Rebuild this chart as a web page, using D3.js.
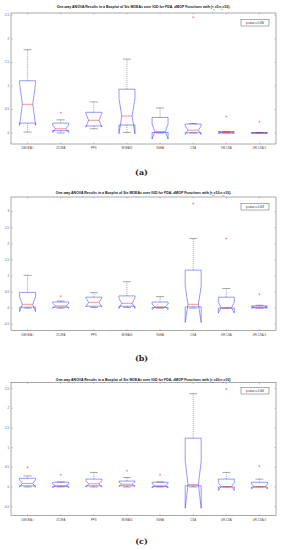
<!DOCTYPE html>
<html>
<head>
<meta charset="utf-8">
<script src="https://cdn.jsdelivr.net/npm/d3@7"></script>
<style>
	body { margin: 0; background: #fff; }
	svg { display: block; }
	text { font-family: 'Liberation Sans', Arial, sans-serif; }
</style>
</head>
<body>
<div id="chart"></div>
<script>
// algorithms on the x axis (same for all three panels)
let algorithms = ['DMOEA-I', 'JCOEA', 'PPS', 'MOEA/D', 'SGEA', 'CSA', 'DR-CSA', 'DR-CSA-II'];
let runs = 10;

// (a) tau_t = 5
let lowA = [0.02, 0.0, 0.09, 0.01, 0.0, 0.0, 0.0, 0.0];
let q1A = [0.21, 0.05, 0.15, 0.17, 0.01, 0.005, 0.0, 0.0];
let medA = [0.61, 0.09, 0.27, 0.36, 0.03, 0.06, 0.01, 0.0];
let q3A = [1.11, 0.21, 0.44, 0.93, 0.33, 0.19, 0.03, 0.005];
let highA = [1.77, 0.28, 0.66, 1.57, 0.53, 0.2, 0.035, 0.01];
let outA = [[], [0.43], [], [], [], [2.46], [0.35], [0.24]];

// (b) tau_t = 10
let lowB = [0.0, 0.0, 0.02, 0.02, 0.0, 0.0, 0.0, 0.0];
let q1B = [0.03, 0.03, 0.06, 0.06, 0.02, 0.04, 0.0, 0.01];
let medB = [0.12, 0.07, 0.18, 0.15, 0.04, 0.12, 0.015, 0.03];
let q3B = [0.49, 0.19, 0.34, 0.38, 0.19, 1.18, 0.34, 0.07];
let highB = [1.02, 0.22, 0.48, 0.82, 0.36, 2.16, 0.61, 0.09];
let outB = [[], [0.37], [], [], [], [3.25], [2.16], [0.43]];

// (c) tau_t = 20
let lowC = [0.0, 0.0, 0.0, 0.0, 0.0, 0.0, 0.0, 0.0];
let q1C = [0.03, 0.02, 0.03, 0.03, 0.01, 0.03, 0.0, 0.0];
let medC = [0.09, 0.03, 0.08, 0.07, 0.03, 0.06, 0.01, 0.01];
let q3C = [0.22, 0.12, 0.2, 0.15, 0.12, 1.24, 0.2, 0.12];
let highC = [0.28, 0.13, 0.37, 0.24, 0.13, 2.37, 0.37, 0.2];
let outC = [[0.5], [0.31], [], [0.41], [0.31], [], [2.49], [0.53]];

let tauValues = ['5', '10', '20'];
let pValues = ['0.036', '0.018', '0.006'];
let captions = ['(a)', '(b)', '(c)'];
let yTicksA = [0, 0.5, 1, 1.5, 2, 2.5];
let yTicksB = [-0.5, 0, 0.5, 1, 1.5, 2, 2.5, 3];
let yTicksC = [-0.5, 0, 0.5, 1, 1.5, 2, 2.5];

let width = 283,
	height = 550,
	left = 11,
	right = 276;

// layout of the three panels
let panels = [
	{ top: 13, bottom: 144, domain: [-0.234, 2.55], ticks: yTicksA, low: lowA, q1: q1A, med: medA, q3: q3A, high: highA, out: outA, titleY: 7.5, capY: 174.5, legendY: 19.5 },
	{ top: 197, bottom: 330.7, domain: [-0.7, 3.45], ticks: yTicksB, low: lowB, q1: q1B, med: medB, q3: q3B, high: highB, out: outB, titleY: 194, capY: 360.5, legendY: 203.5 },
	{ top: 382.7, bottom: 515.7, domain: [-0.73, 2.65], ticks: yTicksC, low: lowC, q1: q1C, med: medC, q3: q3C, high: highC, out: outC, titleY: 380.5, capY: 544, legendY: 387.5 },
];

let svg = d3.select('#chart').append('svg').attr('width', width).attr('height', height);

let x = d3.scaleLinear().domain([0.5, algorithms.length + 0.5]).range([left, right]);
let boxW = 8; // half width in px
let capW = 4;

panels.forEach(function (p, k) {
	let y = d3.scaleLinear().domain(p.domain).range([p.bottom, p.top]);
	let g = svg.append('g');

	// frame
	g.append('rect')
		.attr('x', left)
		.attr('y', p.top)
		.attr('width', right - left)
		.attr('height', p.bottom - p.top)
		.attr('fill', 'none')
		.attr('stroke', '#555')
		.attr('stroke-width', 0.5);

	// y ticks on both sides
	p.ticks.forEach(function (t) {
		g.append('line').attr('x1', left).attr('x2', left + 1.5).attr('y1', y(t)).attr('y2', y(t)).attr('stroke', '#777').attr('stroke-width', 0.4);
		g.append('line').attr('x1', right - 1.5).attr('x2', right).attr('y1', y(t)).attr('y2', y(t)).attr('stroke', '#777').attr('stroke-width', 0.4);
		g.append('text')
			.attr('x', left - 2)
			.attr('y', y(t) + 1)
			.attr('text-anchor', 'end')
			.style('font-size', '2.8px')
			.attr('fill', '#444')
			.text(t);
	});

	// x ticks top and bottom + labels
	algorithms.forEach(function (name, i) {
		let cx = x(i + 1);
		g.append('line').attr('x1', cx).attr('x2', cx).attr('y1', p.bottom).attr('y2', p.bottom - 1.5).attr('stroke', '#777').attr('stroke-width', 0.4);
		g.append('line').attr('x1', cx).attr('x2', cx).attr('y1', p.top).attr('y2', p.top + 1.5).attr('stroke', '#777').attr('stroke-width', 0.4);
		g.append('text')
			.attr('x', cx)
			.attr('y', p.bottom + 5)
			.attr('text-anchor', 'middle')
			.style('font-size', '2.8px')
			.attr('fill', '#444')
			.text(name);
	});

	// boxes
	algorithms.forEach(function (name, i) {
		let cx = x(i + 1);
		let iqr = p.q3[i] - p.q1[i];
		let half = (1.57 * iqr) / Math.sqrt(runs);
		let nlo = p.med[i] - half,
			nhi = p.med[i] + half;
		let nw = boxW * 0.65;

		// whiskers (dashed) and caps
		g.append('line').attr('x1', cx).attr('x2', cx).attr('y1', y(p.q3[i])).attr('y2', y(p.high[i]))
			.attr('stroke', '#222').attr('stroke-width', 0.4).attr('stroke-dasharray', '1,1');
		g.append('line').attr('x1', cx).attr('x2', cx).attr('y1', y(p.q1[i])).attr('y2', y(p.low[i]))
			.attr('stroke', '#222').attr('stroke-width', 0.4).attr('stroke-dasharray', '1,1');
		g.append('line').attr('x1', cx - capW).attr('x2', cx + capW).attr('y1', y(p.high[i])).attr('y2', y(p.high[i]))
			.attr('stroke', '#222').attr('stroke-width', 0.4);
		g.append('line').attr('x1', cx - capW).attr('x2', cx + capW).attr('y1', y(p.low[i])).attr('y2', y(p.low[i]))
			.attr('stroke', '#222').attr('stroke-width', 0.4);

		// notched box (folds when the notch passes the quartiles)
		let pts = [
			[cx - boxW, y(p.q1[i])],
			[cx - boxW, y(nlo)],
			[cx - nw, y(p.med[i])],
			[cx - boxW, y(nhi)],
			[cx - boxW, y(p.q3[i])],
			[cx + boxW, y(p.q3[i])],
			[cx + boxW, y(nhi)],
			[cx + nw, y(p.med[i])],
			[cx + boxW, y(nlo)],
			[cx + boxW, y(p.q1[i])],
		];
		g.append('path')
			.attr('d', d3.line()(pts) + 'Z')
			.attr('fill', 'none')
			.attr('stroke', '#3030ff')
			.attr('stroke-width', 0.5);

		// median
		g.append('line').attr('x1', cx - nw).attr('x2', cx + nw).attr('y1', y(p.med[i])).attr('y2', y(p.med[i]))
			.attr('stroke', '#ff2020').attr('stroke-width', 0.5);

		// outliers
		p.out[i].forEach(function (v) {
			g.append('path')
				.attr('d', 'M' + (cx - 1) + ',' + y(v) + 'h2M' + cx + ',' + (y(v) - 1) + 'v2')
				.attr('stroke', '#ff2020')
				.attr('stroke-width', 0.4);
		});
	});

	// title
	let title = g.append('text')
		.attr('x', (left + right) / 2)
		.attr('y', p.titleY)
		.attr('text-anchor', 'middle')
		.style('font-size', '3.5px')
		.style('font-weight', 'bold')
		.attr('fill', '#111');
	title.append('tspan').text('One-way ANOVA Results in a Boxplot of Six MOEAs over IGD for FDA, dMOP Functions with (\u03c4');
	title.append('tspan').attr('baseline-shift', 'sub').style('font-size', '2.4px').text('t');
	title.append('tspan').text('=' + tauValues[k] + ',n');
	title.append('tspan').attr('baseline-shift', 'sub').style('font-size', '2.4px').text('t');
	title.append('tspan').text('=10).');

	// p-value legend
	g.append('rect')
		.attr('x', 241)
		.attr('y', p.legendY)
		.attr('width', 28)
		.attr('height', 6.5)
		.attr('fill', '#fff')
		.attr('stroke', '#333')
		.attr('stroke-width', 0.4);
	g.append('text')
		.attr('x', 255)
		.attr('y', p.legendY + 4.2)
		.attr('text-anchor', 'middle')
		.style('font-size', '2.6px')
		.attr('fill', '#222')
		.text('p-value = ' + pValues[k]);

	// caption
	svg.append('text')
		.attr('x', 141.5)
		.attr('y', p.capY)
		.attr('text-anchor', 'middle')
		.style('font-family', "'DejaVu Serif', 'Liberation Serif', serif")
		.style('font-size', '8px')
		.style('font-weight', 'bold')
		.attr('fill', '#222')
		.text(captions[k]);
});
</script>
</body>
</html>
